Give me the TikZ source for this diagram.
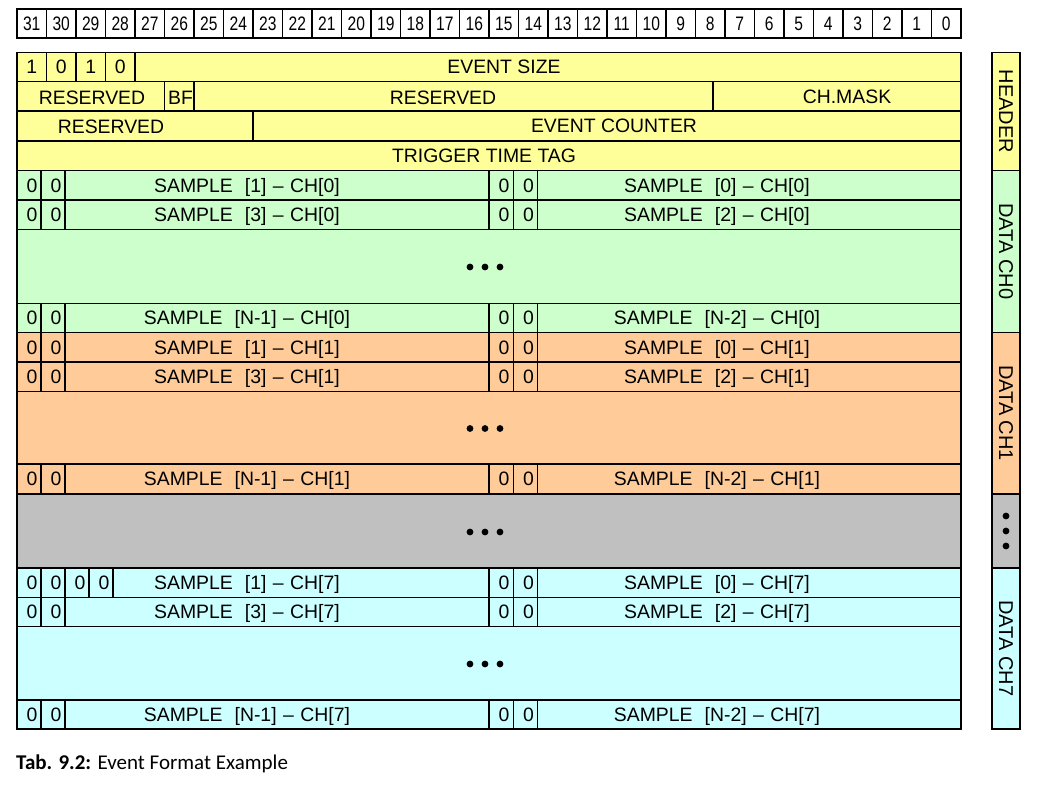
\documentclass[tikz,border=0pt]{standalone}
\usepackage{fontspec}
\setmainfont{Liberation Sans}
\newfontfamily\bitfont[FakeStretch=0.8]{Liberation Sans}
\newfontfamily\capfont{Carlito}
\definecolor{hdryellow}{HTML}{FFFF99}
\definecolor{chzero}{HTML}{CCFFCC}
\definecolor{chone}{HTML}{FFCC99}
\definecolor{chgap}{HTML}{C0C0C0}
\definecolor{chseven}{HTML}{CCFFFF}
\tikzset{
	cellline/.style={line width=1.1pt},
	bitnum/.style={draw, line width=1.1pt, minimum width=29.5pt, minimum height=29pt, inner sep=0pt, font=\bitfont\fontsize{19.5}{19.5}\selectfont},
	fld/.style={inner sep=0pt, text height=13.8pt, text depth=0pt, font=\fontsize{19.4}{19.4}\selectfont},
	side/.style={fld, rotate=-90, font=\fontsize{20}{20}\selectfont},
}
% one row of two samples: top, bottom, name, left text, right text
\newcommand{\smprow}[5]{%
	\draw [cellline] (17,#1) rectangle (961,#2);
	\draw [cellline] (41,#1) -- (41,#2) (65,#1) -- (65,#2);
	\draw [cellline] (489,#1) rectangle (537.5,#2) (513.5,#1) -- (513.5,#2);
	\node[fld] (#3a) at (32,{(#1+#2)/2}) {0};
	\node[fld] (#3b) at (56,{(#1+#2)/2}) {0};
	\node[fld] (#3c) at (504,{(#1+#2)/2}) {0};
	\node[fld] (#3d) at (528.5,{(#1+#2)/2}) {0};
	\node[fld] (#3l) at (247,{(#1+#2)/2}) {SAMPLE\hspace{12pt}#4};
	\node[fld] (#3r) at (717,{(#1+#2)/2}) {SAMPLE\hspace{12pt}#5};
}
\newcommand{\gapdots}[2]{\foreach \dx in {-15,0,15} \fill (#1+\dx,#2) circle (3.4);}
\newcommand{\sdash}{\hspace{6.5pt}–\hspace{6.5pt}}

\begin{document}
\begin{tikzpicture}[x=1pt, y=-1pt]
	\useasboundingbox (0,0) rectangle (1048,786);
	% bit numbers
	\foreach \b in {0,...,31}
		\node[bitnum] (bit\b) at ({17+(31-\b)*29.5+14.75},23.5) {\b};

	% header words
	\fill [hdryellow] (17,52.5) rectangle (961,170.5);
	\draw [cellline] (17,52.5) rectangle (961,170.5);
	\draw [cellline] (17,81.5) -- (961,81.5) (17,141) -- (961,141);
	\draw [line width=2pt] (17,111) -- (961,111);
	\foreach \x in {46.5,76,105.5,135}
		\draw [cellline] (\x,52.5) -- (\x,81.5);
	\draw [cellline] (164.5,81.5) -- (164.5,111) (194,81.5) -- (194,111) (713,81.5) -- (713,111);
	\draw [cellline] (253,111) -- (253,141);
	\node[fld] (tag31) at (31.75,67) {1};
	\node[fld] (tag30) at (61.25,67) {0};
	\node[fld] (tag29) at (90.75,67) {1};
	\node[fld] (tag28) at (120.25,67) {0};
	\node[fld] (evsize) at (504,67) {EVENT SIZE};
	\node[fld] (resa) at (92,97.5) {RESERVED};
	\node[fld] (bf) at (180.5,97.5) {BF};
	\node[fld] (resb) at (443,97.5) {RESERVED};
	\node[fld] (chmask) at (847,96.5) {CH.MASK};
	\node[fld] (resc) at (111,127) {RESERVED};
	\node[fld] (evcnt) at (614,126) {EVENT COUNTER};
	\node[fld] (trtag) at (484,155.5) {TRIGGER TIME TAG};

	% channel 0
	\fill [chzero] (17,170.5) rectangle (961,332.5);
	\smprow{170.5}{200}{zr1}{[1]\sdash CH[0]}{[0]\sdash CH[0]}
	\smprow{200}{229.5}{zr2}{[3]\sdash CH[0]}{[2]\sdash CH[0]}
	\draw [cellline] (17,229.5) rectangle (961,303.5);
	\gapdots{485}{267}
	\smprow{303.5}{332.5}{zrn}{[N-1]\sdash CH[0]}{[N-2]\sdash CH[0]}

	% channel 1
	\fill [chone] (17,332.5) rectangle (961,494);
	\smprow{332.5}{362}{or1}{[1]\sdash CH[1]}{[0]\sdash CH[1]}
	\smprow{362}{391.5}{or2}{[3]\sdash CH[1]}{[2]\sdash CH[1]}
	\draw [cellline] (17,391.5) rectangle (961,464);
	\gapdots{485}{428.5}
	\smprow{464}{494}{orn}{[N-1]\sdash CH[1]}{[N-2]\sdash CH[1]}

	% channels between
	\fill [chgap] (17,494) rectangle (961,568);
	\draw [cellline] (17,494) rectangle (961,568);
	\gapdots{485}{532}

	% channel 7
	\fill [chseven] (17,568) rectangle (961,729);
	\smprow{568}{597.5}{sr1}{[1]\sdash CH[7]}{[0]\sdash CH[7]}
	\draw [cellline] (89,568) -- (89,597.5) (113,568) -- (113,597.5);
	\node[fld] (sr1e) at (80,582.75) {0};
	\node[fld] (sr1f) at (104,582.75) {0};
	\smprow{597.5}{626.5}{sr2}{[3]\sdash CH[7]}{[2]\sdash CH[7]}
	\draw [cellline] (17,626.5) rectangle (961,700);
	\gapdots{485}{664}
	\smprow{700}{729}{srn}{[N-1]\sdash CH[7]}{[N-2]\sdash CH[7]}

	% side labels
	\draw [cellline, fill=hdryellow] (992,52.5) rectangle (1020,170.5);
	\node[side] (lhdr) at (1006,111.5) {HEADER};
	\draw [cellline, fill=chzero] (992,170.5) rectangle (1020,332.5);
	\node[side] (lch0) at (1006,251.5) {DATA CH0};
	\draw [cellline, fill=chone] (992,332.5) rectangle (1020,494);
	\node[side] (lch1) at (1006,413) {DATA CH1};
	\draw [cellline, fill=chgap] (992,494) rectangle (1020,568);
	\foreach \dy in {-15,0,15}
		\fill (1006,531+\dy) circle (3.4);
	\draw [cellline, fill=chseven] (992,568) rectangle (1020,729);
	\node[side] (lch7) at (1006,648.5) {DATA CH7};

	\node[anchor=base west, inner sep=0pt, font=\capfont\fontsize{21}{21}\selectfont] (caption) at (16,769.5) {\textbf{Tab. 9.2:} Event Format Example};
\end{tikzpicture}
\end{document}
